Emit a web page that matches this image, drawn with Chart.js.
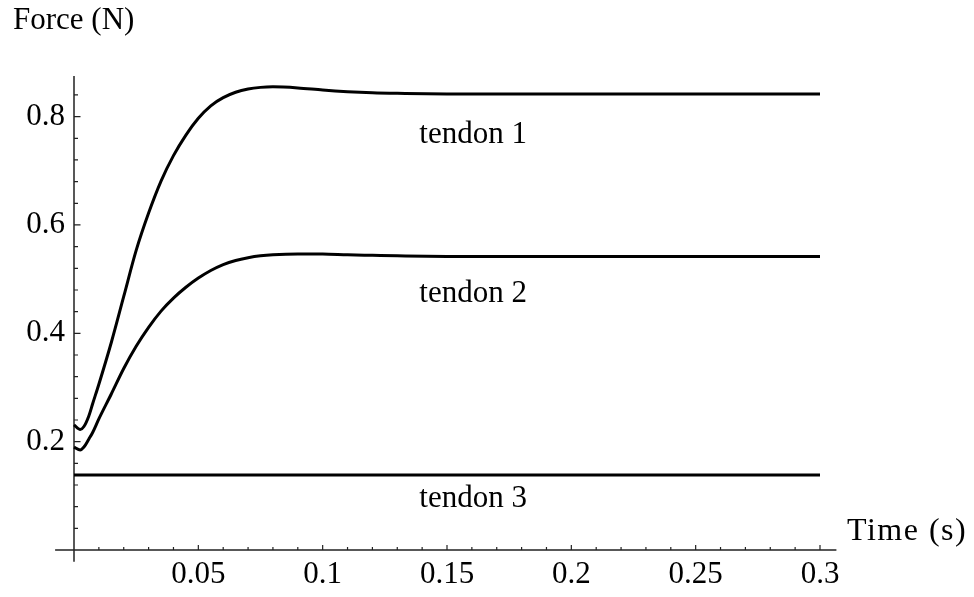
<!DOCTYPE html>
<html>
<head>
<meta charset="utf-8">
<script src="https://cdn.jsdelivr.net/npm/chart.js@4.4.1/dist/chart.umd.min.js"></script>
<style>
  html, body { margin: 0; padding: 0; background: #ffffff; }
  #wrap { width: 974px; height: 597px; }
</style>
</head>
<body>
<div id="wrap"><canvas id="c" width="974" height="597"></canvas></div>
<script>
// Sample times (s) and tendon forces (N)
const timeS = [0, 0.0025, 0.004, 0.006, 0.0075, 0.01, 0.015, 0.02, 0.025, 0.03, 0.035, 0.04, 0.045, 0.05,
  0.055, 0.06, 0.065, 0.07, 0.075, 0.08, 0.09, 0.1, 0.11, 0.12, 0.13, 0.15, 0.2, 0.25, 0.3];
const tendon1 = [0.231, 0.2225, 0.228, 0.248, 0.270, 0.306, 0.383, 0.468, 0.553, 0.622, 0.681, 0.728, 0.766, 0.797,
  0.820, 0.835, 0.845, 0.851, 0.854, 0.855, 0.853, 0.849, 0.846, 0.844, 0.843, 0.842, 0.842, 0.842, 0.842];
const tendon2 = [0.19, 0.1848, 0.19, 0.205, 0.217, 0.242, 0.288, 0.335, 0.376, 0.411, 0.441, 0.465, 0.485, 0.502,
  0.516, 0.527, 0.5345, 0.5395, 0.543, 0.545, 0.5465, 0.5462, 0.545, 0.544, 0.543, 0.542, 0.542, 0.542, 0.542];
const tendon3 = [0.1385, 0.1385, 0.1385, 0.1385, 0.1385, 0.1385, 0.1385, 0.1385, 0.1385, 0.1385, 0.1385, 0.1385, 0.1385, 0.1385,
  0.1385, 0.1385, 0.1385, 0.1385, 0.1385, 0.1385, 0.1385, 0.1385, 0.1385, 0.1385, 0.1385, 0.1385, 0.1385, 0.1385, 0.1385];

const seriesNames = ['tendon 1', 'tendon 2', 'tendon 3'];
const xTickValues = [0.05, 0.1, 0.15, 0.2, 0.25, 0.3];
const yTickValues = [0.2, 0.4, 0.6, 0.8];
const xAxisTitle = 'Time (s)';
const yAxisTitle = 'Force (N)';

const FONT = "'Liberation Serif', 'Times New Roman', serif";
const FONT_SIZE = 31;

function toPoints(values) {
  return timeS.map((t, i) => ({ x: t, y: values[i] }));
}

// Axes crossing at the origin, with major/minor tick marks pointing inward
const crossAxes = {
  id: 'crossAxes',
  beforeDatasetsDraw(chart) {
    const { ctx } = chart;
    const xs = chart.scales.x, ys = chart.scales.y;
    const x0 = xs.getPixelForValue(0), y0 = ys.getPixelForValue(0);
    ctx.save();
    ctx.strokeStyle = '#222';
    ctx.lineWidth = 1.5;
    ctx.beginPath();
    ctx.moveTo(xs.getPixelForValue(-0.0076), y0);
    ctx.lineTo(xs.getPixelForValue(0.3066), y0);
    ctx.moveTo(x0, ys.getPixelForValue(-0.0216));
    ctx.lineTo(x0, ys.getPixelForValue(0.875));
    ctx.stroke();
    ctx.lineWidth = 1.2;
    ctx.beginPath();
    for (let k = 1; k <= 30; k++) {
      const px = xs.getPixelForValue(k * 0.01);
      const len = k % 5 === 0 ? 5 : 3;
      ctx.moveTo(px, y0);
      ctx.lineTo(px, y0 - len);
    }
    for (let k = 1; k <= 21; k++) {
      const py = ys.getPixelForValue(k * 0.04);
      const len = k % 5 === 0 ? 6.5 : 4;
      ctx.moveTo(x0, py);
      ctx.lineTo(x0 + len, py);
    }
    ctx.stroke();
    ctx.restore();
  },
  afterDraw(chart) {
    const { ctx } = chart;
    const xs = chart.scales.x, ys = chart.scales.y;
    ctx.save();
    ctx.fillStyle = '#000';
    ctx.font = FONT_SIZE + 'px ' + FONT;
    ctx.textBaseline = 'alphabetic';
    ctx.textAlign = 'left';
    ctx.fillText(yAxisTitle, 13, 29);
    ctx.font = '32px ' + FONT;
    ctx.letterSpacing = '1.5px';
    ctx.fillText(xAxisTitle, 847, 540);
    ctx.letterSpacing = '0px';
    ctx.font = FONT_SIZE + 'px ' + FONT;
    ctx.textAlign = 'center';
    const anchors = [[0.1605, 0.751], [0.1605, 0.458], [0.1605, 0.080]];
    seriesNames.forEach((name, i) => {
      ctx.fillText(name, xs.getPixelForValue(anchors[i][0]), ys.getPixelForValue(anchors[i][1]));
    });
    ctx.restore();
  }
};

const lineStyle = {
  borderColor: '#000',
  borderWidth: 3,
  pointRadius: 0,
  fill: false,
  cubicInterpolationMode: 'monotone',
  clip: false
};

new Chart(document.getElementById('c'), {
  type: 'line',
  data: {
    datasets: [
      Object.assign({ label: seriesNames[0], data: toPoints(tendon1) }, lineStyle),
      Object.assign({ label: seriesNames[1], data: toPoints(tendon2) }, lineStyle),
      Object.assign({ label: seriesNames[2], data: toPoints(tendon3) }, lineStyle)
    ]
  },
  options: {
    responsive: false,
    animation: false,
    devicePixelRatio: 1,
    layout: { padding: { left: 0, right: 154, top: 76, bottom: 0 } },
    plugins: { legend: { display: false }, tooltip: { enabled: false } },
    scales: {
      x: {
        type: 'linear',
        min: 0,
        max: 0.3,
        grid: { display: false, drawTicks: false },
        border: { display: false },
        afterBuildTicks(scale) { scale.ticks = xTickValues.map(v => ({ value: v })); },
        afterFit(scale) { scale.height = 47; },
        ticks: {
          maxRotation: 0,
          autoSkip: false,
          padding: 6,
          color: '#000',
          font: { family: FONT, size: FONT_SIZE },
          callback: v => String(v)
        }
      },
      y: {
        type: 'linear',
        min: 0,
        max: 0.875,
        grid: { display: false, drawTicks: false },
        border: { display: false },
        afterBuildTicks(scale) { scale.ticks = yTickValues.map(v => ({ value: v })); },
        afterFit(scale) { scale.width = 74; },
        ticks: {
          autoSkip: false,
          padding: 9,
          color: '#000',
          font: { family: FONT, size: FONT_SIZE },
          callback: v => String(v)
        }
      }
    }
  },
  plugins: [crossAxes]
});
</script>
</body>
</html>
